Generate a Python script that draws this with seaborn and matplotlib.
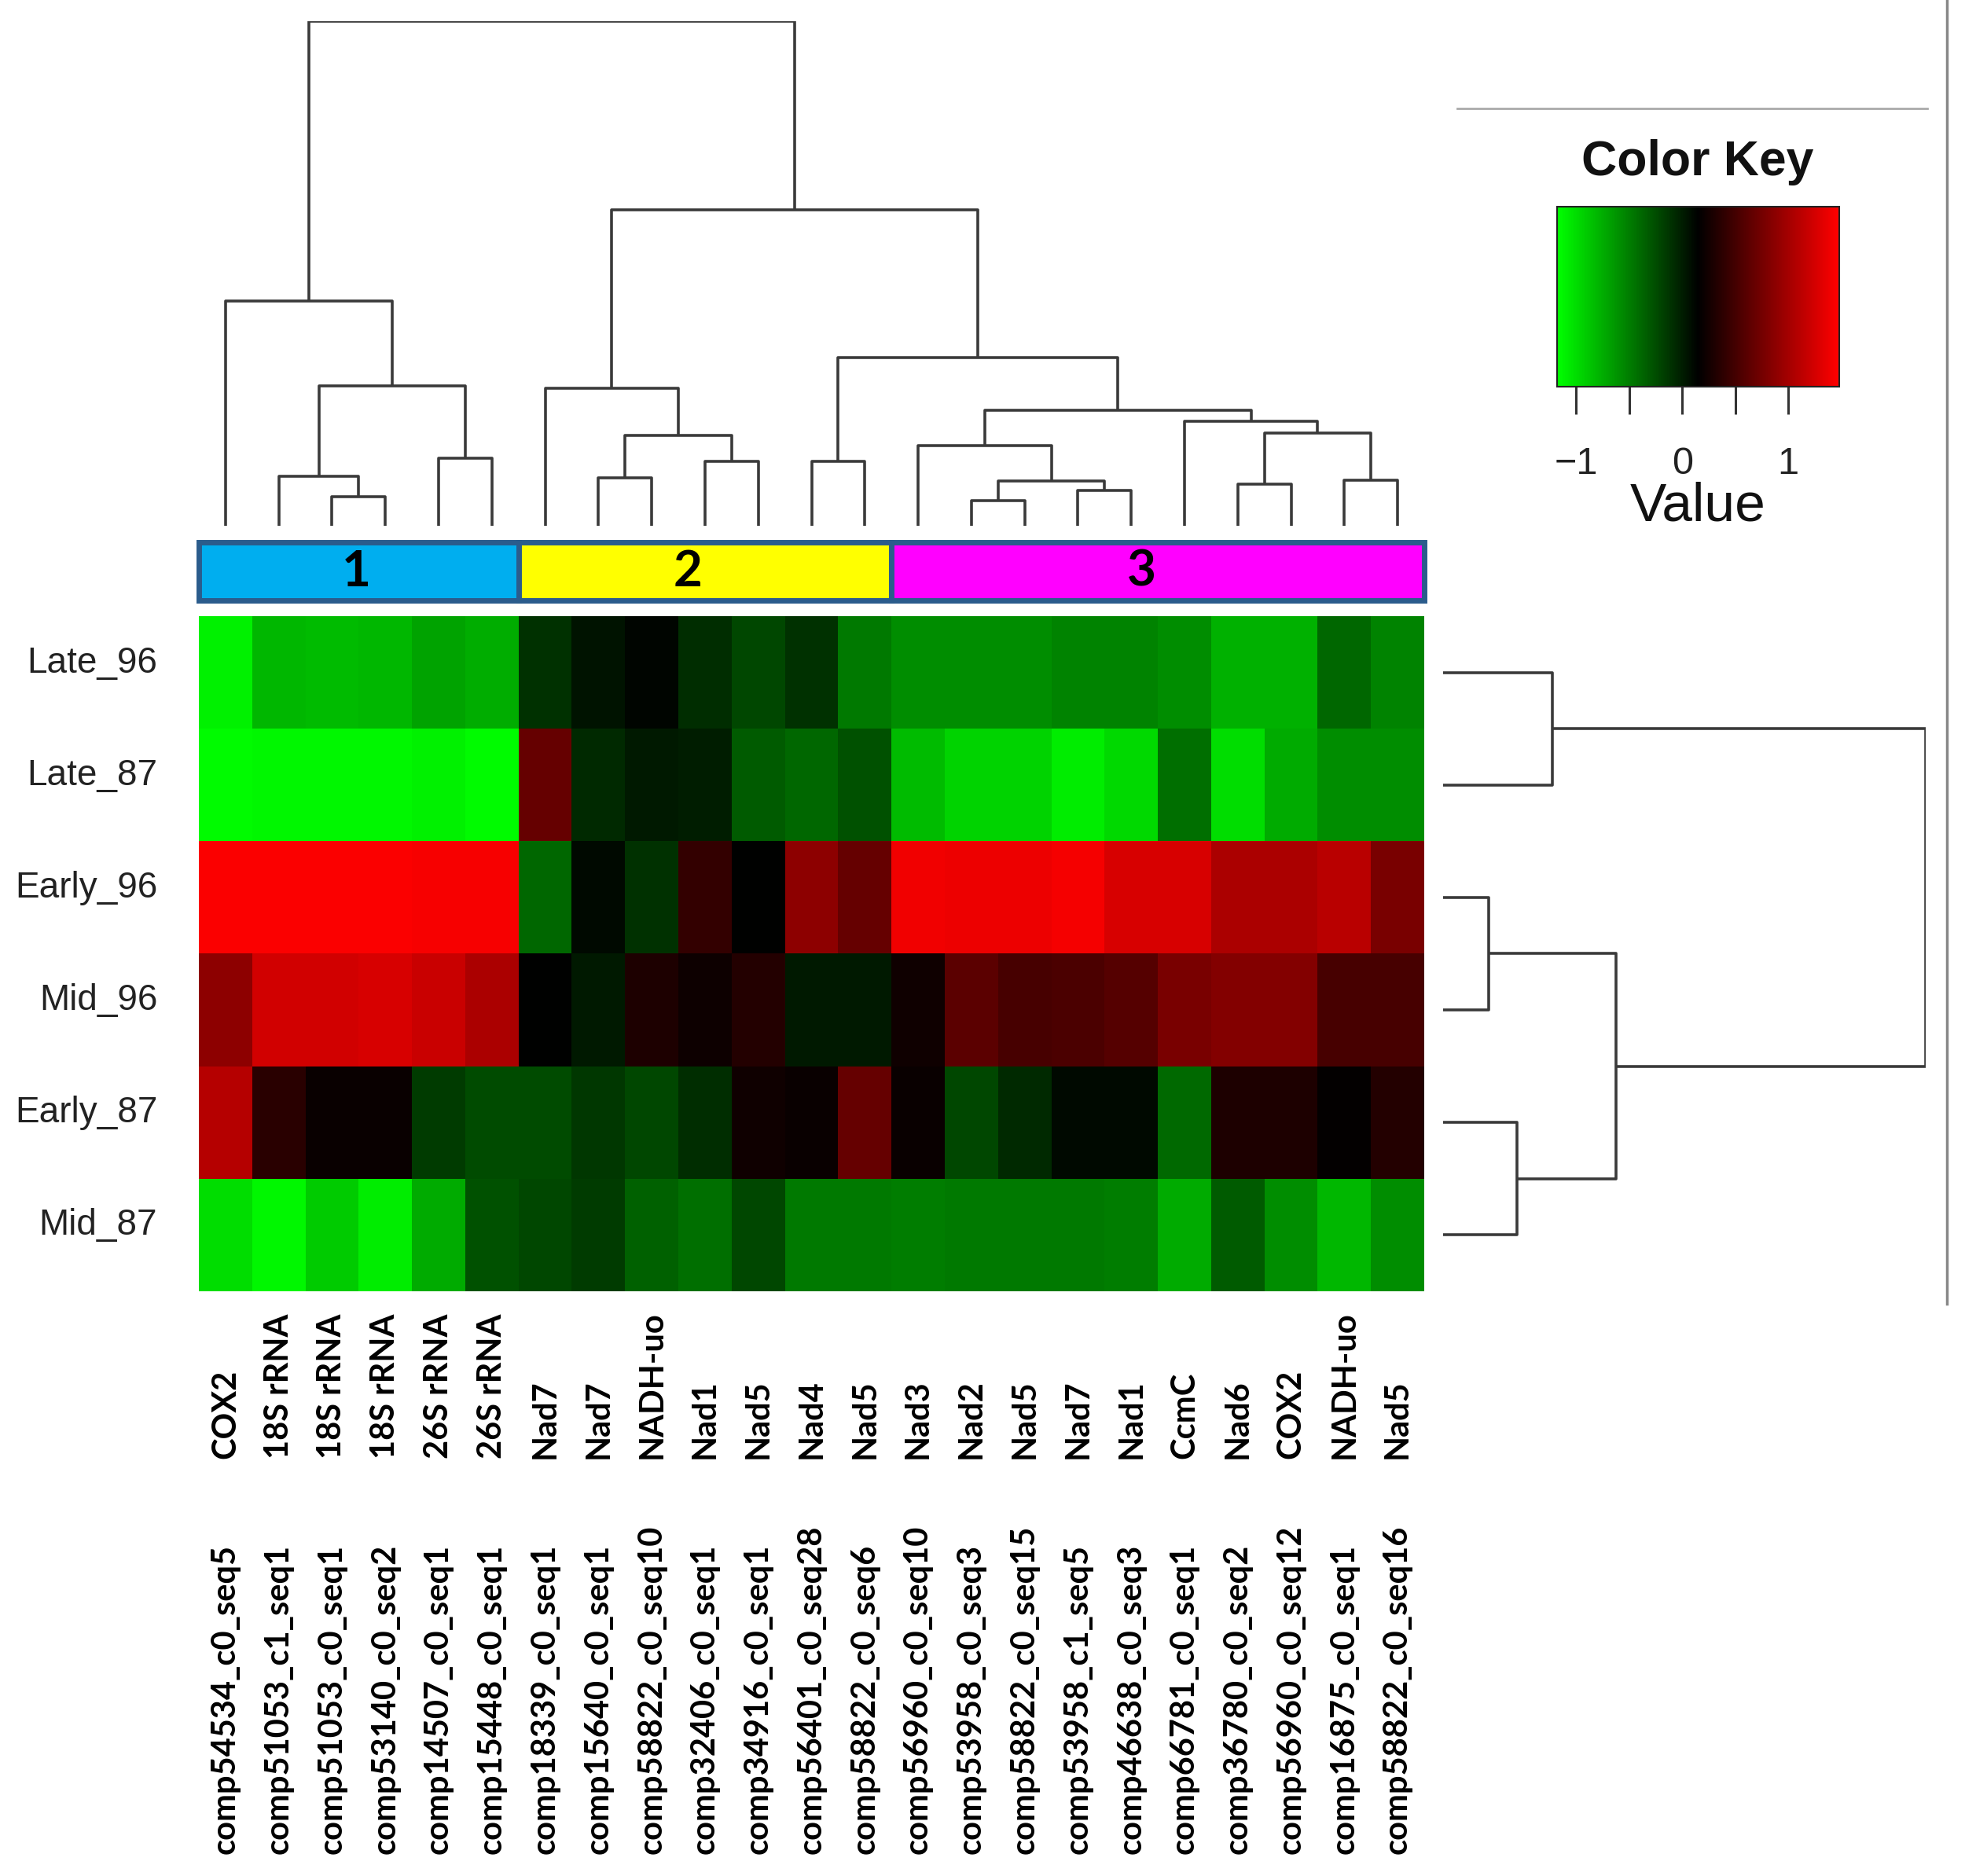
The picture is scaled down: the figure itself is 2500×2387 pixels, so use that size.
import numpy as np
import pandas as pd
import matplotlib
matplotlib.use("Agg")
import matplotlib.pyplot as plt
import matplotlib.transforms as mtransforms
from matplotlib.colors import LinearSegmentedColormap, Normalize
from matplotlib.cm import ScalarMappable
from matplotlib.lines import Line2D
from matplotlib.patches import Rectangle
import seaborn as sns

# ---------------- data ----------------
samples = ["Late_96", "Late_87", "Early_96", "Mid_96", "Early_87", "Mid_87"]
genes = ["COX2", "18S rRNA", "18S rRNA", "18S rRNA", "26S rRNA", "26S rRNA",
         "Nad7", "Nad7", "NADH-uo", "Nad1", "Nad5", "Nad4", "Nad5",
         "Nad3", "Nad2", "Nad5", "Nad7", "Nad1", "CcmC", "Nad6", "COX2", "NADH-uo", "Nad5"]
contigs = ["comp54534_c0_seq5", "comp51053_c1_seq1", "comp51053_c0_seq1", "comp53140_c0_seq2",
           "comp14507_c0_seq1", "comp15448_c0_seq1", "comp18339_c0_seq1", "comp15640_c0_seq1",
           "comp58822_c0_seq10", "comp32406_c0_seq1", "comp34916_c0_seq1", "comp56401_c0_seq28",
           "comp58822_c0_seq6", "comp56960_c0_seq10", "comp53958_c0_seq3", "comp58822_c0_seq15",
           "comp53958_c1_seq5", "comp46638_c0_seq3", "comp66781_c0_seq1", "comp36780_c0_seq2",
           "comp56960_c0_seq12", "comp16875_c0_seq1", "comp58822_c0_seq16"]

late_96 = [-1.10, -0.80, -0.82, -0.80, -0.70, -0.75, -0.10, 0.05, 0.12, -0.08, -0.22, -0.10,
           -0.48, -0.58, -0.58, -0.58, -0.53, -0.53, -0.58, -0.77, -0.77, -0.38, -0.53]
late_87 = [-1.15, -1.13, -1.13, -1.13, -1.10, -1.15, 0.67, -0.06, 0.02, 0.00, -0.32, -0.38,
           -0.27, -0.82, -0.95, -0.95, -1.08, -0.98, -0.43, -1.00, -0.74, -0.58, -0.58]
early_96 = [1.45, 1.45, 1.45, 1.45, 1.43, 1.43, -0.38, 0.10, -0.10, 0.41, 0.15, 0.88,
            0.67, 1.40, 1.38, 1.38, 1.42, 1.27, 1.27, 1.04, 1.04, 1.11, 0.78]
mid_96 = [0.88, 1.24, 1.24, 1.27, 1.19, 1.04, 0.15, 0.02, 0.30, 0.22, 0.33, 0.02,
          0.02, 0.23, 0.62, 0.52, 0.54, 0.59, 0.78, 0.83, 0.83, 0.52, 0.52]
early_87 = [1.09, 0.36, 0.20, 0.20, -0.16, -0.24, -0.24, -0.14, -0.22, -0.08, 0.23, 0.20,
            0.67, 0.20, -0.22, -0.06, 0.10, 0.10, -0.40, 0.30, 0.30, 0.17, 0.33]
mid_87 = [-1.00, -1.13, -0.90, -1.08, -0.74, -0.27, -0.22, -0.16, -0.35, -0.43, -0.22, -0.48,
          -0.48, -0.50, -0.48, -0.48, -0.48, -0.50, -0.74, -0.32, -0.58, -0.80, -0.58]

# column dendrogram merges: (child_a, child_b, height); leaves 0..22, nodes 23..
col_merges = [(2, 3, 75), (1, 23, 127), (4, 5, 172), (24, 25, 357), (0, 26, 575),
              (7, 8, 123), (9, 10, 165), (28, 29, 232), (6, 30, 352), (11, 12, 165),
              (14, 15, 65), (16, 17, 90), (33, 34, 115), (13, 35, 205), (19, 20, 107),
              (21, 22, 117), (37, 38, 237), (18, 39, 268), (36, 40, 295), (32, 41, 430),
              (31, 42, 807), (27, 43, 1290)]
# row dendrogram merges; leaves 0..5, nodes 6..
row_merges = [(0, 1, 310), (2, 3, 130), (4, 5, 210), (7, 8, 492), (6, 9, 1372)]

cluster_names = ["1", "2", "3"]
cluster_sizes = [6, 7, 10]
cluster_colors = ["#00AEEF", "#FFFF00", "#FF00FF"]

key_ticks = [-1, -0.5, 0, 0.5, 1]
key_labels = ["\u22121", "", "0", "", "1"]
vmin, vmax = -1.18, 1.48

df = pd.DataFrame([late_96, late_87, early_96, mid_96, early_87, mid_87],
                  index=samples, columns=contigs)

# ---------------- layout ----------------
W, H = 2500, 2387
fig = plt.figure(figsize=(W / 100, H / 100), dpi=100)
fig.patch.set_facecolor("white")


def box(x0, y0, x1, y1):
    return [x0 / W, 1 - y1 / H, (x1 - x0) / W, (y1 - y0) / H]


cmap = LinearSegmentedColormap.from_list("gkr", ["#00FF00", "#000000", "#FF0000"])
sans = ["Liberation Sans", "DejaVu Sans"]
lab_font = ["Lato", "DejaVu Sans"]
dcol = "#3a3a3a"
dlw = 2.6

# heatmap
ax_hm = fig.add_axes(box(253, 784, 1812, 1643))
sns.heatmap(df, ax=ax_hm, cmap=cmap, vmin=vmin, vmax=vmax, cbar=False,
            xticklabels=False, yticklabels=True)
ax_hm.set_xlabel("")
ax_hm.set_ylabel("")
ax_hm.tick_params(axis="y", length=0, pad=38, labelsize=33)
shift_up = mtransforms.ScaledTranslation(0, 0.12, fig.dpi_scale_trans)
for t in ax_hm.get_yticklabels():
    t.set_rotation(0)
    t.set_family(sans)
    t.set_color("#222222")
    t.set_transform(t.get_transform() + shift_up)

trans = mtransforms.blended_transform_factory(ax_hm.transData, fig.transFigure)
for i, (g, c) in enumerate(zip(genes, contigs)):
    ax_hm.text(i + 0.5, 1 - 1856 / H, g, rotation=90, ha="center", va="bottom",
               fontsize=30, fontweight="bold", family=lab_font, transform=trans, clip_on=False)
    ax_hm.text(i + 0.5, 1 - 2359 / H, c, rotation=90, ha="center", va="bottom",
               fontsize=30, fontweight="bold", family=lab_font, transform=trans, clip_on=False)


def draw_dendro(ax, n, merges, orient):
    pos = {i: i + 0.5 for i in range(n)}
    hgt = {i: 0.0 for i in range(n)}
    for k, (a, b, h) in enumerate(merges):
        xs = [pos[a], pos[a], pos[b], pos[b]]
        ys = [hgt[a], h, h, hgt[b]]
        if orient == "top":
            ax.plot(xs, ys, color=dcol, lw=dlw, solid_capstyle="butt")
        else:
            ax.plot(ys, xs, color=dcol, lw=dlw, solid_capstyle="butt")
        pos[n + k] = (pos[a] + pos[b]) / 2
        hgt[n + k] = h


# top dendrogram
ax_top = fig.add_axes(box(253, 27, 1812, 669))
draw_dendro(ax_top, len(contigs), col_merges, "top")
ax_top.set_xlim(0, len(contigs))
ax_top.set_ylim(0, max(m[2] for m in col_merges))
ax_top.axis("off")

# right dendrogram
ax_right = fig.add_axes(box(1836, 784, 2450, 1643))
draw_dendro(ax_right, len(samples), row_merges, "right")
ax_right.set_ylim(len(samples), 0)
ax_right.set_xlim(0, max(m[2] for m in row_merges))
ax_right.axis("off")

# cluster bar
ax_bar = fig.add_axes(box(253, 690, 1812, 764))
label_shift = [-0.05, -0.32, -0.3]
start = 0
for name, size, col, sh in zip(cluster_names, cluster_sizes, cluster_colors, label_shift):
    ax_bar.add_patch(Rectangle((start, 0), size, 1, facecolor=col, edgecolor="#2B5C8C",
                               lw=5, clip_on=False))
    ax_bar.text(start + size / 2 + sh, 0.5, name, ha="center", va="center", fontsize=46,
                fontweight="bold", family=lab_font, color="black")
    start += size
ax_bar.set_xlim(0, len(contigs))
ax_bar.set_ylim(0, 1)
ax_bar.axis("off")

# color key
ax_key = fig.add_axes(box(1981, 263, 2340, 492))
cb = fig.colorbar(ScalarMappable(norm=Normalize(vmin, vmax), cmap=cmap), cax=ax_key,
                  orientation="horizontal")
cb.set_ticks(key_ticks)
cb.set_ticklabels(key_labels)
cb.outline.set_linewidth(1.5)
cb.outline.set_edgecolor("#222222")
ax_key.tick_params(axis="x", direction="out", length=25, width=2.2, pad=30,
                   labelsize=35, color="#333333", labelcolor="#222222")
for t in ax_key.get_xticklabels():
    t.set_family(sans)
fig.text(2160 / W, 1 - 207 / H, "Color Key", ha="center", va="center", fontsize=45,
         fontweight="bold", family=sans, color="#111111")
fig.text(2160 / W, 1 - 645 / H, "Value", ha="center", va="center", fontsize=50,
         family=sans, color="#111111")

# frame lines
fig.add_artist(Line2D([2477 / W, 2477 / W], [1.0, 1 - 1659 / H], transform=fig.transFigure,
                      color="#888888", lw=2.5))
fig.add_artist(Line2D([1854 / W, 2452 / W], [1 - 138 / H, 1 - 138 / H],
                      transform=fig.transFigure, color="#AAAAAA", lw=2))

fig.savefig("out.png", dpi=100, facecolor="white")
